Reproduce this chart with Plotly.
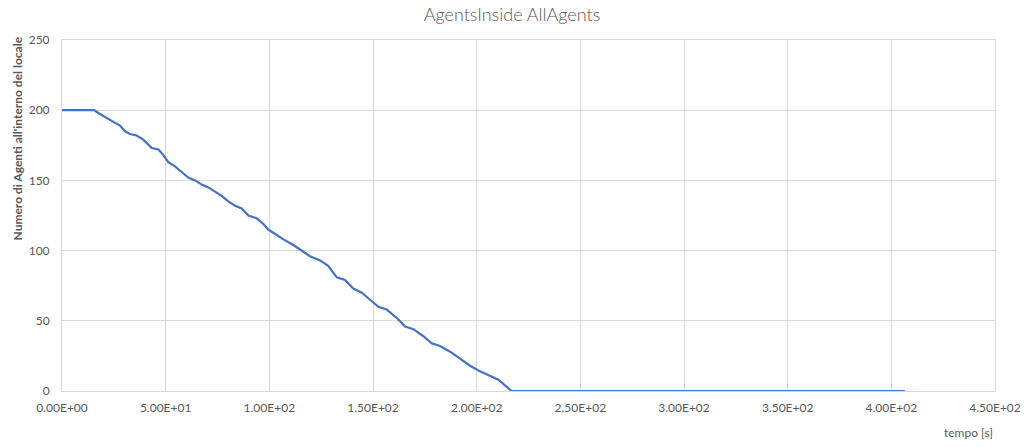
"""AgentsInside AllAgents - evacuation curve."""

import plotly.graph_objects as go

# time [s] and agents inside
TIME = [
    0.0, 15.5, 17.5, 20.7, 23.2, 25.6, 28.0, 30.4, 32.8, 36.0, 39.2, 43.3,
    46.5, 48.9, 51.3, 54.5, 57.7, 60.9, 64.2, 67.4, 70.6, 73.8, 77.0, 80.2,
    83.5, 86.7, 89.9, 93.9, 97.1, 99.5, 103.6, 106.8, 111.6, 115.6, 119.6,
    124.5, 128.5, 132.5, 136.5, 140.5, 144.6, 148.6, 152.6, 156.6, 161.5,
    165.5, 169.5, 174.3, 178.3, 182.3, 187.2, 192.0, 196.8, 201.6, 206.5,
    210.5, 214.5, 216.9, 406.5,
]
AGENTS = [
    200, 200, 198, 195, 193, 191, 189, 185, 183, 182, 179, 173,
    172, 168, 163, 160, 156, 152, 150, 147, 145, 142, 139, 135,
    132, 130, 125, 123, 119, 115, 111, 108, 104, 100, 96,
    93, 89, 81, 79, 73, 70, 65, 60, 58, 52,
    46, 44, 39, 34, 32, 28, 23, 18, 14, 11,
    8, 3, 0, 0,
]

X_TICKS = [0, 50, 100, 150, 200, 250, 300, 350, 400, 450]
X_TICK_TEXT = [
    "0.00E+00", "5.00E+01", "1.00E+02", "1.50E+02", "2.00E+02",
    "2.50E+02", "3.00E+02", "3.50E+02", "4.00E+02", "4.50E+02",
]
Y_TICKS = [0, 50, 100, 150, 200, 250]

LINE_COLOR = "#4472C4"
GRID_COLOR = "#D9D9D9"
TEXT_COLOR = "#595959"
FONT = "Lato, 'Open Sans', sans-serif"

fig = go.Figure()
fig.add_trace(
    go.Scatter(
        x=TIME,
        y=AGENTS,
        mode="lines",
        line={"color": LINE_COLOR, "width": 2.2},
        showlegend=False,
    )
)

axis_common = {
    "showgrid": True,
    "gridcolor": GRID_COLOR,
    "gridwidth": 1,
    "zeroline": False,
    "showline": True,
    "linecolor": GRID_COLOR,
    "mirror": True,
    "tickfont": {"family": FONT, "size": 12, "color": TEXT_COLOR},
}

fig.update_layout(
    width=1024,
    height=447,
    margin={"l": 62, "r": 29, "t": 40, "b": 56, "autoexpand": False},
    paper_bgcolor="white",
    plot_bgcolor="white",
    title={
        "text": "AgentsInside AllAgents",
        "x": 0.5,
        "xanchor": "center",
        "y": 0.968,
        "yanchor": "middle",
        "font": {"family": FONT, "size": 18, "color": TEXT_COLOR, "weight": 300},
    },
    xaxis={
        **axis_common,
        "range": [0, 450],
        "tickvals": X_TICKS,
        "ticktext": X_TICK_TEXT,
        "ticks": "",
        "ticklabelstandoff": 6,
    },
    yaxis={
        **axis_common,
        "range": [0, 250],
        "tickvals": Y_TICKS,
        "ticks": "",
        "ticklabelstandoff": 9,
    },
)

fig.add_annotation(
    text="Numero di Agenti all'interno del locale",
    xref="paper",
    yref="paper",
    x=-0.048,
    y=0.72,
    xanchor="center",
    yanchor="middle",
    textangle=-90,
    showarrow=False,
    font={"family": FONT, "size": 12, "color": TEXT_COLOR, "weight": "bold"},
)
fig.add_annotation(
    text="tempo [s]",
    xref="paper",
    yref="paper",
    x=1.0,
    y=-0.117,
    xanchor="right",
    yanchor="middle",
    showarrow=False,
    font={"family": FONT, "size": 12, "color": TEXT_COLOR},
)

fig.write_html(
    "out.html",
    config={"displayModeBar": False},
    post_script="document.body.style.margin='0';document.body.style.overflow='hidden';",
)
